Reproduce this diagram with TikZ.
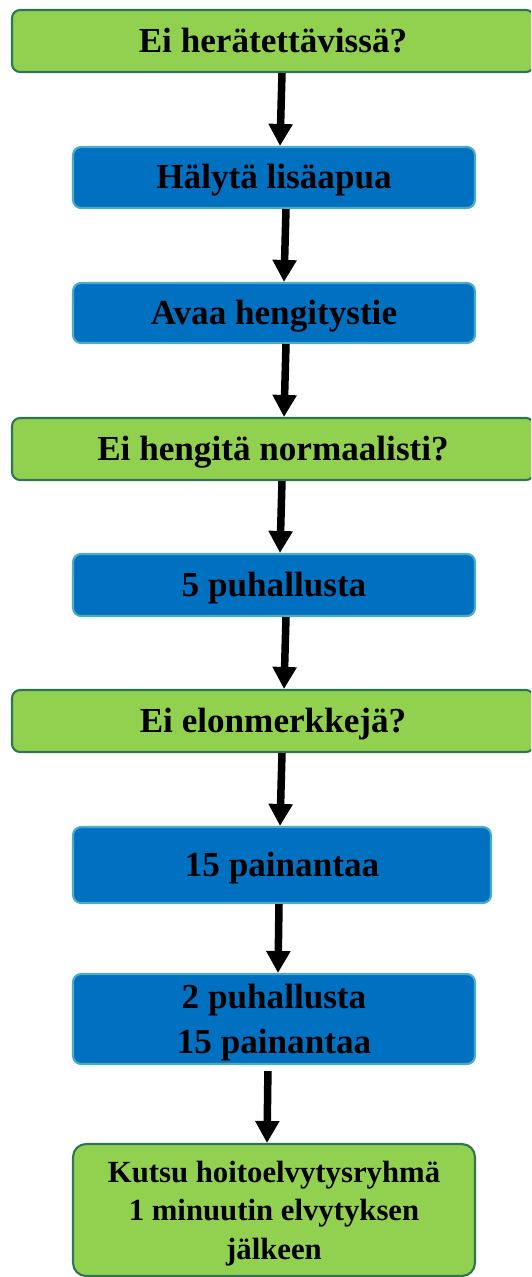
\documentclass[tikz,border=0pt]{standalone}
\usepackage{fontspec}
\setmainfont{Liberation Serif}
\usetikzlibrary{arrows.meta}
\definecolor{qgreen}{RGB}{146,208,80}
\definecolor{qedge}{RGB}{46,117,82}
\definecolor{ablue}{RGB}{0,112,192}
\definecolor{aedge}{RGB}{75,172,198}
\begin{document}
\begin{tikzpicture}[x=0.02cm, y=-0.02cm,
    question/.style={draw=qedge, fill=qgreen, line width=1.2pt, rounded corners=0.16cm,
        minimum width=10.44cm, minimum height=1.24cm, inner sep=0pt,
        text height=0.46cm, text depth=-0.05cm,
        font=\bfseries\fontsize{20}{26}\selectfont},
    action/.style={draw=aedge, fill=ablue, line width=1.2pt, rounded corners=0.16cm,
        minimum width=8.04cm, inner sep=0pt, align=center,
        font=\bfseries\fontsize{20}{25.6}\selectfont},
    oneline/.style={text height=0.46cm, text depth=-0.05cm},
    pointer/.style={line width=0.15cm, -{Triangle[width=0.46cm,length=0.44cm]}}]
    \useasboundingbox (0,0) rectangle (531,1277);
    \clip (0,0) rectangle (531,1277);

    \node[question] (awake) at (273,41) {Ei herätettävissä?};
    \node[action, oneline, minimum height=1.22cm] (alarm) at (274,177.5) {Hälytä lisäapua};
    \node[action, oneline, minimum height=1.2cm] (airway) at (274,313) {Avaa hengitystie};
    \node[question] (breath) at (273,449) {Ei hengitä normaalisti?};
    \node[action, oneline, minimum height=1.24cm] (fiveb) at (274,585) {5 puhallusta};
    \node[question] (signs) at (273,721) {Ei elonmerkkejä?};
    \node[action, oneline, minimum width=8.36cm, minimum height=1.52cm] (fifteen) at (282,865) {15 painantaa};
    \node[action, text depth=-0.07cm, minimum height=1.8cm] (cycle) at (274,1019) {2 puhallusta\\15 painantaa};
    \node[action, draw=qedge, fill=qgreen, minimum height=2.64cm, rounded corners=0.26cm,
        text depth=-0.1cm, font=\bfseries\fontsize{17.5}{21.9}\selectfont] (team) at (274,1210)
        {Kutsu hoitoelvytysryhmä\\1 minuutin elvytyksen\\jälkeen};

    \draw[pointer] ([xshift=0.18cm]awake.south) -- ([xshift=0.12cm]alarm.north);
    \draw[pointer] ([xshift=0.24cm]alarm.south) -- ([xshift=0.2cm]airway.north);
    \draw[pointer] ([xshift=0.24cm]airway.south) -- ([xshift=0.22cm]breath.north);
    \draw[pointer] ([xshift=0.18cm]breath.south) -- ([xshift=0.12cm]fiveb.north);
    \draw[pointer] ([xshift=0.24cm]fiveb.south) -- ([xshift=0.22cm]signs.north);
    \draw[pointer] ([xshift=0.18cm]signs.south) -- ([xshift=-0.04cm]fifteen.north);
    \draw[pointer] ([xshift=-0.06cm]fifteen.south) -- ([xshift=0.08cm]cycle.north);
    \draw[pointer, shorten <=0.12cm] ([xshift=-0.12cm]cycle.south) -- ([xshift=-0.14cm]team.north);

\end{tikzpicture}
\end{document}
